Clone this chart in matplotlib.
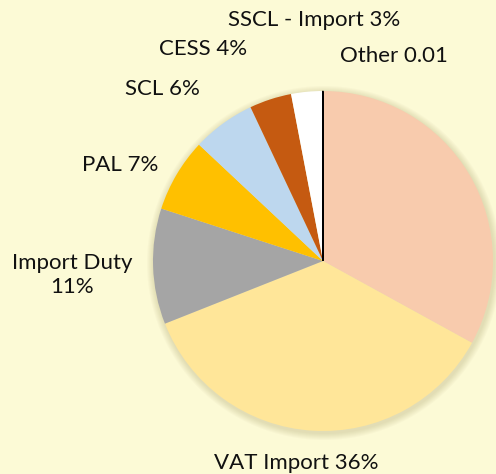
import numpy as np
import matplotlib.pyplot as plt
from matplotlib.patches import Circle

# slice data, clockwise from 12 o'clock
labels = [None, 'VAT Import 36%', 'Import Duty\n11%', 'PAL 7%', 'SCL 6%',
          'CESS 4%', 'SSCL - Import 3%', 'Other 0.01']
values = [33, 36, 11, 7, 6, 4, 3, 0.01]
colors = ['#F8CBAD', '#FFE699', '#A5A5A5', '#FFC000', '#BDD7EE',
          '#C55A11', '#FFFFFF', '#000000']

# label positions in pixels (x, y from top)
label_pos = [None, (296, 463), (72, 275), (120, 165), (162, 89),
             (203, 49), (314, 20), (394, 56)]

W, H = 496, 474
bg = '#FCFAD6'
fig = plt.figure(figsize=(W / 100, H / 100), dpi=100, facecolor=bg)
ax = fig.add_axes([0, 0, 1, 1])

cx, cy, r = 323, H - 261, 170

# soft shadow around the pie
for i in range(7, 0, -1):
    ax.add_patch(Circle((cx + 1, cy - 2), r + i, color='#8a7a40',
                        alpha=0.03, lw=0, zorder=1))

wedges, _ = ax.pie(values, colors=colors, startangle=90, counterclock=False,
                   center=(cx, cy), radius=r, frame=True,
                   wedgeprops=dict(linewidth=0, zorder=2))
wedges[-1].set_edgecolor('#000000')
wedges[-1].set_linewidth(0.8)
ax.set_xlim(0, W)
ax.set_ylim(0, H)
ax.axis('off')

for lab, pos in zip(labels, label_pos):
    if lab is None:
        continue
    ax.text(pos[0], H - pos[1], lab, ha='center', va='center', fontsize=16,
            family='Lato', color='#111111', linespacing=1.2)

fig.savefig('out.png', dpi=100, facecolor=bg)
